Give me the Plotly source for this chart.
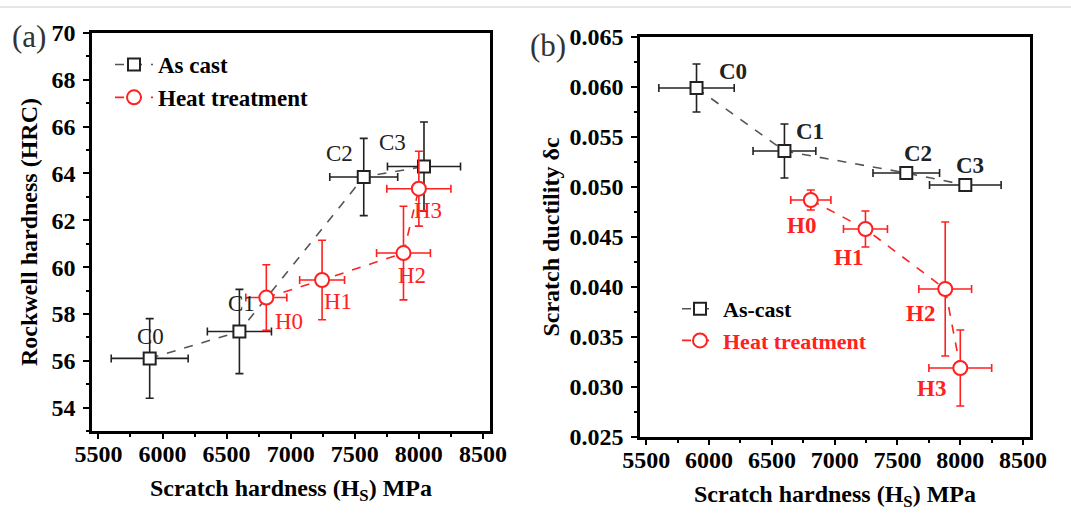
import plotly.graph_objects as go

# ---------------- data ----------------
cast_labels = ["C0", "C1", "C2", "C3"]
heat_labels = ["H0", "H1", "H2", "H3"]

cast_hs = [5900, 6600, 7570, 8040]
cast_hs_err = [300, 250, 265, 285]
heat_hs = [6810, 7245, 7880, 8000]
heat_hs_err = [160, 175, 210, 250]

cast_hrc = [56.1, 57.25, 63.85, 64.3]
cast_hrc_err = [1.7, 1.8, 1.65, 1.9]
heat_hrc = [58.7, 59.45, 60.6, 63.35]
heat_hrc_err = [1.4, 1.7, 2.0, 1.6]

cast_duct = [0.0599, 0.0536, 0.0514, 0.0502]
cast_duct_err = [0.0024, 0.0027, 0.0003, 0.0002]
heat_duct = [0.0487, 0.0458, 0.0398, 0.0319]
heat_duct_err = [0.0010, 0.0018, 0.0067, 0.0038]

x_ticks = [5500, 6000, 6500, 7000, 7500, 8000, 8500]
ya_ticks = [54, 56, 58, 60, 62, 64, 66, 68, 70]
yb_ticks = [0.025, 0.030, 0.035, 0.040, 0.045, 0.050, 0.055, 0.060, 0.065]

W, H = 1071, 513
SERIF = "Liberation Serif"
RED = "#ff2020"
BLK = "#222222"

fig = go.Figure()


def add_series(x, xe, y, ye, color, linecolor, symbol, size, name, xa, ya, legend):
    fig.add_trace(go.Scatter(
        x=x, y=y, mode="lines+markers", name=name,
        xaxis=xa, yaxis=ya, legend=legend,
        line=dict(color=linecolor, width=1.6, dash="dash"),
        marker=dict(symbol=symbol, size=size, color="white",
                    line=dict(color=color, width=2)),
        error_x=dict(type="data", array=xe, color=color, thickness=1.6, width=4),
        error_y=dict(type="data", array=ye, color=color, thickness=1.6, width=4),
    ))


# panel (a)
add_series(cast_hs, cast_hs_err, cast_hrc, cast_hrc_err, BLK, "#555555",
           "square", 12, "<b>As cast</b>", "x", "y", "legend")
add_series(heat_hs, heat_hs_err, heat_hrc, heat_hrc_err, RED, RED,
           "circle", 14, "<b>Heat treatment</b>", "x", "y", "legend")
# panel (b)
add_series(cast_hs, cast_hs_err, cast_duct, cast_duct_err, BLK, "#555555",
           "square", 12, "<b>As-cast</b>", "x2", "y2", "legend2")
add_series(heat_hs, heat_hs_err, heat_duct, heat_duct_err, RED, RED,
           "circle", 14, "<b><span style='color:#ff2020'>Heat treatment</span></b>",
           "x2", "y2", "legend2")

# point labels (pixel offsets from the data points)
a_cast_off = [(1, 22), (2, 28), (-24, 23), (-31, 24)]
a_heat_off = [(23, -24), (16, -22), (9, -22), (9, -22)]
b_cast_off = [(36, 17), (26, 20), (12, 20), (5, 20)]
b_heat_off = [(-9, -25), (-17, -28), (-25, -24), (-29, -20)]

for lab, x, y, (dx, dy) in zip(cast_labels, cast_hs, cast_hrc, a_cast_off):
    fig.add_annotation(x=x, y=y, xref="x", yref="y", text=lab, showarrow=False,
                       xshift=dx, yshift=dy,
                       font=dict(family=SERIF, size=23, color=BLK))
for lab, x, y, (dx, dy) in zip(heat_labels, heat_hs, heat_hrc, a_heat_off):
    fig.add_annotation(x=x, y=y, xref="x", yref="y", text=lab, showarrow=False,
                       xshift=dx, yshift=dy,
                       font=dict(family=SERIF, size=23, color=RED))
for lab, x, y, (dx, dy) in zip(cast_labels, cast_hs, cast_duct, b_cast_off):
    fig.add_annotation(x=x, y=y, xref="x2", yref="y2", text="<b>" + lab + "</b>",
                       showarrow=False, xshift=dx, yshift=dy,
                       font=dict(family=SERIF, size=23, color=BLK))
for lab, x, y, (dx, dy) in zip(heat_labels, heat_hs, heat_duct, b_heat_off):
    fig.add_annotation(x=x, y=y, xref="x2", yref="y2", text="<b>" + lab + "</b>",
                       showarrow=False, xshift=dx, yshift=dy,
                       font=dict(family=SERIF, size=23, color=RED))

# panel letters
fig.add_annotation(x=10 / W, y=1 - 36 / H, xref="paper", yref="paper", text="(a)",
                   showarrow=False, xanchor="left", yanchor="middle",
                   font=dict(family=SERIF, size=31, color="#333"))
fig.add_annotation(x=528 / W, y=1 - 45 / H, xref="paper", yref="paper", text="(b)",
                   showarrow=False, xanchor="left", yanchor="middle",
                   font=dict(family=SERIF, size=31, color="#333"))

# thin border line on top of image
fig.add_shape(type="line", xref="paper", yref="paper", x0=0, x1=1,
              y0=1 - 7 / H, y1=1 - 7 / H, line=dict(color="#dddddd", width=1.5))

tickfont = dict(family=SERIF, size=24, color="black")
titlefont = dict(family=SERIF, size=24, color="black")

xcommon = dict(range=[5450, 8555], tickvals=x_ticks,
               ticktext=["<b>%d</b>" % v for v in x_ticks],
               ticks="outside", ticklen=5, ticklabelstandoff=-6, automargin=False,
               tickwidth=1.8, tickcolor="black", showline=True, linewidth=2.5,
               linecolor="black", mirror=True, showgrid=False, zeroline=False,
               tickfont=tickfont,
               minor=dict(ticks="outside", ticklen=3, dtick=250, tick0=5500,
                          tickcolor="black", tickwidth=1.5, showgrid=False),
               title=dict(text="<b>Scratch hardness (H<sub>S</sub>) MPa</b>",
                          font=titlefont, standoff=14))
ycommon = dict(ticks="outside", ticklen=6, tickwidth=1.8, tickcolor="black",
               ticklabelstandoff=3, automargin=False,
               showline=True, linewidth=2.5, linecolor="black", mirror=True,
               showgrid=False, zeroline=False, tickfont=tickfont)

fig.update_layout(
    width=W, height=H, margin=dict(l=0, r=0, t=0, b=0),
    paper_bgcolor="white", plot_bgcolor="white", showlegend=True,
    xaxis=dict(domain=[92 / W, 490 / W], anchor="y", **xcommon),
    yaxis=dict(domain=[1 - 431 / H, 1 - 33 / H], anchor="x", range=[53, 70],
               tickvals=ya_ticks, ticktext=["<b>%d</b>" % v for v in ya_ticks],
               minor=dict(ticks="outside", ticklen=3, dtick=1, tick0=53,
                          tickcolor="black", tickwidth=1.5, showgrid=False),
               title=dict(text="<b>Rockwell hardness (HRC)</b>", font=titlefont,
                          standoff=8),
               **ycommon),
    xaxis2=dict(domain=[640 / W, 1030 / W], anchor="y2", **xcommon),
    yaxis2=dict(domain=[1 - 437 / H, 1 - 37 / H], anchor="x2", range=[0.025, 0.065],
                tickvals=yb_ticks, ticktext=["<b>%.3f</b>" % v for v in yb_ticks],
                minor=dict(ticks="outside", ticklen=3, dtick=0.0025, tick0=0.025,
                           tickcolor="black", tickwidth=1.5, showgrid=False),
                title=dict(text="<b>Scratch ductility δc</b>", font=titlefont,
                           standoff=4),
                **ycommon),
    legend=dict(x=110 / W, y=1 - 43 / H, xanchor="left", yanchor="top",
                bgcolor="rgba(0,0,0,0)", tracegroupgap=3, itemwidth=38,
                font=dict(family=SERIF, size=23, color="black")),
    legend2=dict(x=677 / W, y=1 - 288 / H, xanchor="left", yanchor="top",
                 bgcolor="rgba(0,0,0,0)", tracegroupgap=0, itemwidth=36,
                 font=dict(family=SERIF, size=22, color="black")),
)

fig.write_html("out.html")
